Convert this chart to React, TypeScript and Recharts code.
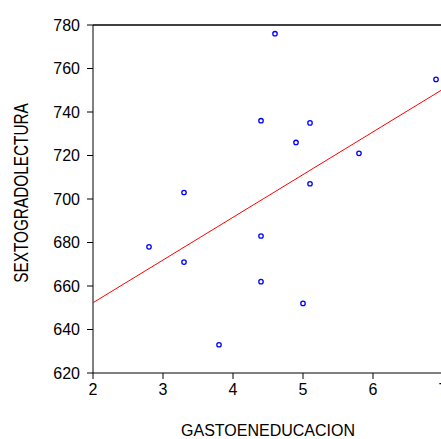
import {
  ScatterChart,
  Scatter,
  XAxis,
  YAxis,
  ReferenceLine,
} from 'recharts';

// GASTOENEDUCACION (x) vs SEXTOGRADOLECTURA (y)
const gasto = [4.6, 6.9, 4.4, 5.1, 4.9, 5.8, 3.3, 5.1, 4.4, 2.8, 3.3, 4.4, 5.0, 3.8];
const lectura = [776, 755, 736, 735, 726, 721, 703, 707, 683, 678, 671, 662, 652, 633];

// fitted line endpoints
const fitX = [2, 7];
const fitY = [652.3, 750.5];

const xTicks = [2, 3, 4, 5, 6, 7];
const yTicks = [620, 640, 660, 680, 700, 720, 740, 760, 780];

const FONT = '"Liberation Sans", Arial, sans-serif';

const points = gasto.map((x, i) => ({ x, y: lectura[i] }));
const fit = fitX.map((x, i) => ({ x, y: fitY[i] }));

const Dot = (props: any) => {
  const { cx, cy } = props;
  return <circle cx={cx} cy={cy} r={2.2} fill="none" stroke="#0000ff" strokeWidth={1.3} />;
};

export default function App() {
  return (
    <div style={{ position: 'absolute', left: 0, top: 0, width: 441, height: 439, overflow: 'hidden', background: '#fff' }}>
      <ScatterChart width={450} height={439} margin={{ top: 25, right: 7, left: 0, bottom: 0 }}>
        <XAxis
          type="number"
          dataKey="x"
          domain={[2, 7]}
          ticks={xTicks}
          allowDataOverflow
          height={66}
          tickSize={6}
          tickMargin={5}
          stroke="#000"
          tick={{ fontSize: 16, fill: '#000', fontFamily: FONT }}
          label={({ viewBox }: any) => (
            <text
              x={viewBox.x + viewBox.width / 2}
              y={436}
              textAnchor="middle"
              fontSize={16}
              fontFamily={FONT}
              fill="#000"
            >
              GASTOENEDUCACION
            </text>
          )}
        />
        <YAxis
          type="number"
          dataKey="y"
          domain={[620, 780]}
          ticks={yTicks}
          allowDataOverflow
          width={93}
          tickSize={6}
          tickMargin={7}
          stroke="#000"
          tick={{ fontSize: 16, fill: '#000', fontFamily: FONT }}
          label={() => (
            <text
              x={0}
              y={0}
              transform="translate(28, 193) rotate(-90) scale(0.96, 1.3)"
              textAnchor="middle"
              fontSize={16}
              fontFamily={FONT}
              fill="#000"
            >
              SEXTOGRADOLECTURA
            </text>
          )}
        />
        <ReferenceLine y={780} stroke="#000" strokeWidth={1.5} ifOverflow="visible" />
        <ReferenceLine x={7} stroke="#000" strokeWidth={1} ifOverflow="visible" />
        <Scatter
          data={fit}
          line={{ stroke: '#ff0000', strokeWidth: 1 }}
          shape={() => null}
          isAnimationActive={false}
        />
        <Scatter data={points} shape={<Dot />} isAnimationActive={false} />
      </ScatterChart>
    </div>
  );
}
